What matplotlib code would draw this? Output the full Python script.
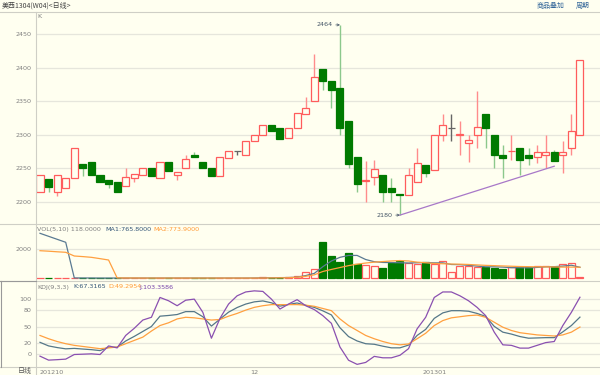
import matplotlib
matplotlib.use("Agg")
import matplotlib.pyplot as plt
from matplotlib.lines import Line2D
import numpy as np

plt.rcParams['font.family'] = ['DejaVu Sans', 'Noto Sans CJK SC']
CJK = ['Noto Sans CJK SC', 'DejaVu Sans']

W, H = 600, 375
BG = '#FFFFF0'
GRID = '#E6E6DC'
SEP = '#CFCFC6'
TXT = '#808080'
RED = '#FF5C5C'
RED_W = '#FF8C8C'
GREEN = '#007A00'
GREEN_W = '#8CC88C'
GRAY = '#666666'

# daily K-line data
opens = [2215, 2233.5, 2215, 2220, 2235, 2256, 2260, 2240, 2232.5, 2230,
         2223.5, 2235, 2240, 2250, 2235, 2260, 2240, 2250, 2270, 2260,
         2250, 2239, 2265, 2275, 2270, 2290, 2300, 2315, 2310, 2295,
         2310, 2331, 2350, 2397.5, 2380, 2370, 2320, 2267.5, 2231, 2237.5,
         2240, 2220, 2211, 2210, 2230, 2255, 2247.5, 2300, 2310, 2300,
         2287.5, 2300, 2331, 2300, 2270, 2275, 2280, 2270, 2267.5, 2270,
         2274, 2269.5, 2280, 2300]
highs = [2240, 2233.5, 2240, 2235, 2280, 2256, 2260, 2240, 2232.5, 2230,
         2251, 2241.5, 2250, 2250, 2260, 2260, 2245, 2270, 2273.5, 2260,
         2250, 2266.5, 2275, 2275, 2290, 2300, 2315, 2315, 2310, 2310,
         2332.5, 2356, 2421, 2397.5, 2380, 2464, 2320, 2267.5, 2261, 2262.5,
         2240, 2235, 2211, 2250, 2280, 2255, 2300, 2331, 2331, 2321,
         2300, 2366, 2331, 2300, 2285, 2300, 2280, 2280, 2285, 2300,
         2277.5, 2291, 2331, 2411]
lows = [2215, 2215, 2209, 2220, 2235, 2239, 2240, 2229, 2220, 2214,
        2223.5, 2229, 2240, 2239, 2235, 2246, 2232.5, 2250, 2266.5, 2251,
        2239, 2239, 2265, 2270, 2270, 2290, 2300, 2305, 2294, 2295,
        2310, 2331, 2350, 2367.5, 2340, 2300, 2250, 2215, 2200, 2225,
        2200, 2200, 2180, 2210, 2230, 2237.5, 2247.5, 2290, 2290, 2270,
        2260, 2280, 2280, 2250, 2235, 2262.5, 2240, 2255, 2257.5, 2250,
        2261.5, 2243.5, 2270, 2300]
closes = [2240, 2222.5, 2240, 2235, 2280, 2250, 2240, 2229, 2226.5, 2214,
          2237.5, 2241.5, 2250, 2239, 2260, 2246, 2245, 2263.5, 2266.5, 2251,
          2239, 2266.5, 2275, 2275, 2290, 2300, 2315, 2305, 2294, 2310,
          2332.5, 2340, 2386, 2380, 2366.5, 2310, 2256, 2226.5, 2232, 2249,
          2215, 2215, 2210, 2240, 2257.5, 2242.5, 2300, 2314, 2310, 2301,
          2292.5, 2311.5, 2310, 2270, 2265, 2276, 2262.5, 2265, 2273.5, 2274,
          2261.5, 2273.5, 2306, 2411]
volumes = [30, 25, 20, 35, 30, 25, 30, 20, 25, 30,
           25, 30, 20, 25, 30, 25, 20, 30, 25, 20,
           25, 30, 35, 25, 30, 40, 100, 50, 60, 70,
           150, 466, 630, 2480, 1562, 1151, 1724, 993, 925, 879,
           696, 1084, 1199, 1039, 970, 1108, 993, 1222, 466, 879,
           879, 810, 810, 696, 630, 765, 765, 765, 879, 879,
           765, 970, 1084, 118]
vol_ma1 = [3096, 2890, 2685, 2480, 40, 35, 35, 30, 30, 30,
           30, 30, 30, 30, 30, 30, 30, 30, 30, 30,
           30, 30, 30, 30, 30, 35, 45, 50, 60, 65,
           90, 200, 350, 810, 1200, 1450, 1580, 1580, 1300, 1150,
           1100, 1090, 1080, 1060, 1080, 1090, 1070, 1070, 960, 950,
           900, 850, 800, 800, 780, 740, 740, 730, 760, 800,
           810, 850, 910, 766]
vol_ma2 = [1904, 1870, 1830, 1795, 1541, 1500, 1450, 1360, 1267, 40,
           35, 35, 30, 30, 30, 30, 30, 30, 30, 30,
           30, 30, 30, 30, 30, 30, 35, 40, 45, 50,
           90, 150, 250, 480, 620, 750, 880, 980, 1060, 1120,
           1160, 1200, 1230, 1200, 1120, 1080, 1030, 1010, 990, 980,
           960, 930, 900, 880, 860, 840, 820, 810, 800, 800,
           790, 780, 780, 774]
kdj_k = [21.5, 15, 12, 9.7, 10.5, 9.3, 8.2, 6.5, 12.6, 12.5,
         24, 32.3, 41.3, 50.3, 69, 70.3, 72, 77.3, 77.3, 68,
         51, 63.7, 76.3, 84.7, 91, 95, 96.7, 93.3, 87.3, 90.3,
         93, 88.7, 85, 78.7, 71.3, 48, 32, 24, 19, 18,
         14.5, 11.5, 11.5, 16.5, 34, 45, 65, 75, 79, 79,
         78, 74, 68.5, 50.5, 40, 36.5, 32, 29, 29.5, 30,
         30, 40.5, 52, 67.3]
kdj_d = [34, 28, 23, 19, 16, 14, 12, 10, 11.4, 13,
         19, 25, 31, 42, 52, 57, 64, 67, 66, 64,
         62, 63, 69, 74, 80, 85, 88, 90, 90, 90,
         90, 89, 87, 83, 79, 64, 52, 43, 34, 28,
         23, 19, 17, 18.5, 28, 38, 52, 61, 66, 68,
         70, 71, 67, 58, 49, 43, 39, 37, 35, 34,
         33, 35, 40, 49.3]
kdj_j = [-3.6, -10.8, -10, -9, -0.6, 0, 0.6, -0.6, 15, 11.4,
         34, 47, 62, 67, 103, 97, 88, 98, 100, 76,
         29, 65, 91, 106, 113, 115, 114, 100, 82, 91,
         99, 88, 81, 70, 56, 13, -11, -18.5, -15, -4,
         -6.6, -6.6, -2, 10, 46, 67, 103, 113, 113, 106,
         97, 85, 70, 40, 17, 16, 11, 11, 16, 21,
         23, 52, 76, 103.4]

price_ticks = [2200, 2250, 2300, 2350, 2400, 2450]
vol_ticks = [2000]
kdj_ticks = [0, 20, 50, 80, 100]
date_pos = [0, 25, 46]
date_labels = ['201210', '12', '201301']
trend_idx = [42, 60]
trend_val = [2180, 2253]


def rect(x0, y0, x1, y1):
    return [x0 / W, 1 - y1 / H, (x1 - x0) / W, (y1 - y0) / H]


def hline(fig, y, x0=0, x1=W, color=SEP, lw=0.8):
    fig.add_artist(Line2D([x0 / W, x1 / W], [1 - y / H, 1 - y / H],
                          transform=fig.transFigure, color=color, lw=lw))


def vline(fig, x, y0, y1, color=SEP, lw=0.8):
    fig.add_artist(Line2D([x / W, x / W], [1 - y0 / H, 1 - y1 / H],
                          transform=fig.transFigure, color=color, lw=lw))


def style(ax, ticks, ylim):
    ax.set_facecolor(BG)
    ax.set_xlim(-0.467, 65.34)
    ax.set_ylim(*ylim)
    ax.set_yticks(ticks)
    ax.set_xticks([])
    ax.tick_params(axis='y', length=0, pad=3, labelsize=4.6, colors=TXT)
    ax.grid(axis='y', color=GRID, lw=0.9)
    ax.set_axisbelow(True)
    for s in ax.spines.values():
        s.set_visible(False)


fig = plt.figure(figsize=(W / 100, H / 100), dpi=100, facecolor=BG)

o = np.array(opens)
c = np.array(closes)
idx = np.arange(len(o))
up = c > o
down = c < o
edge_col = np.where(up, RED, np.where(down, GREEN, GRAY))
wick_col = np.where(up, RED_W, np.where(down, GREEN_W, GRAY))
face_col = np.where(down, GREEN, BG)

# --- K panel ---
ax = fig.add_axes(rect(36, 12, 600, 224))
style(ax, price_ticks, (2166.7, 2483.3))
ax.vlines(idx, lows, highs, colors=wick_col, lw=1.0, zorder=2)
ax.bar(idx, np.maximum(np.abs(c - o), 0.6), 0.82, bottom=np.minimum(o, c),
       facecolor=face_col, edgecolor=edge_col, lw=0.9, zorder=3)
ax.plot(trend_idx, trend_val, color='#A878C8', lw=0.9, zorder=4)

imax = int(np.argmax(highs))
imin = int(np.argmin(lows))
for i, v in [(imax, highs[imax]), (imin, lows[imin])]:
    ax.annotate(f'{v:g}', xy=(i, v), xytext=(-7, 0), textcoords='offset pixels',
                ha='right', va='center', fontsize=4.6, color='#445566',
                arrowprops=dict(arrowstyle='->', color='#445566', lw=0.5,
                                shrinkA=0, shrinkB=0, mutation_scale=4))
ax.text(37 / W, 1 - 17 / H, 'K', transform=fig.transFigure, fontsize=4.6,
        color=TXT, va='center')

# --- VOL panel ---
axv = fig.add_axes(rect(36, 224, 600, 280))
style(axv, vol_ticks, (-103, 3733))
vup = c >= o
axv.bar(idx, volumes, 0.82, facecolor=np.where(vup, BG, GREEN),
        edgecolor=np.where(vup, RED, GREEN), lw=0.9, zorder=3)
axv.plot(idx, vol_ma1, color='#5A7A92', lw=0.9, zorder=4)
axv.plot(idx, vol_ma2, color='#FFA040', lw=0.9, zorder=4)
y_hdr = 1 - 230 / H
fig.text(37 / W, y_hdr, 'VOL(5,10) 118.0000', fontsize=4.6, color=TXT, va='center')
fig.text(105 / W, y_hdr, 'MA1:765.8000', fontsize=4.6, color='#335577', va='center')
fig.text(153 / W, y_hdr, 'MA2:773.9000', fontsize=4.6, color='#FF9933', va='center')

# --- KDJ panel ---
axk = fig.add_axes(rect(36, 281, 600, 367))
style(axk, kdj_ticks, (-23.3, 132.9))
axk.plot(idx, kdj_k, color='#557788', lw=0.9)
axk.plot(idx, kdj_d, color='#FFA040', lw=0.9)
axk.plot(idx, kdj_j, color='#8A50B0', lw=0.9)
y_hdr = 1 - 287 / H
fig.text(37 / W, y_hdr, 'KDJ(9,3,3)', fontsize=4.6, color=TXT, va='center')
fig.text(73 / W, y_hdr, 'K:67.3165', fontsize=4.6, color='#335577', va='center')
fig.text(108 / W, y_hdr, 'D:49.2954', fontsize=4.6, color='#FF9933', va='center')
fig.text(139 / W, y_hdr, 'J:103.3586', fontsize=4.6, color='#7744AA', va='center')

axk.set_xticks(date_pos, date_labels)
axk.tick_params(axis='x', length=0, pad=2.5, labelsize=4.6, colors=TXT)
axk.get_xticklabels()[0].set_ha('left')
fig.text(32 / W, 1 - 371 / H, '日线', fontsize=5, color='#555555',
         ha='right', va='center', family=CJK)

# header
fig.text(2 / W, 1 - 6 / H, '美西1304(W04)<日线>', fontsize=5, color='#444444',
         va='center', family=CJK)
fig.text(537 / W, 1 - 6 / H, '商品叠加', fontsize=5, color='#336699',
         va='center', family=CJK)
fig.text(576 / W, 1 - 6 / H, '周期', fontsize=5, color='#336699',
         va='center', family=CJK)

# frame lines
hline(fig, 11.5)
hline(fig, 224)
hline(fig, 280.5)
hline(fig, 367)
vline(fig, 35.5, 11.5, 375)
hline(fig, 281, 0, 35.5, color='#999999')
vline(fig, 0.5, 281, 367, color='#999999')

fig.savefig('out.png', dpi=100, facecolor=BG)
